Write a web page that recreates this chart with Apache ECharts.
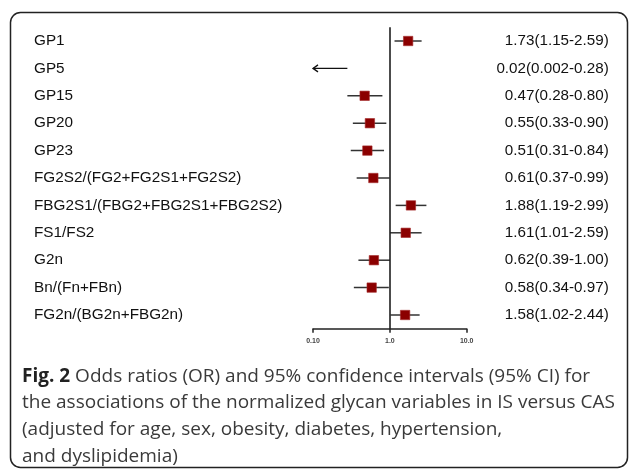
<!DOCTYPE html>
<html>
<head>
<meta charset="utf-8">
<script src="https://cdn.jsdelivr.net/npm/echarts@6/dist/echarts.min.js"></script>
<style>html,body{margin:0;padding:0;background:#fff}#c{width:630px;height:470px}</style>
</head>
<body>
<div id="c"></div>
<script>
const categories = ["GP1","GP5","GP15","GP20","GP23","FG2S2/(FG2+FG2S1+FG2S2)","FBG2S1/(FBG2+FBG2S1+FBG2S2)","FS1/FS2","G2n","Bn/(Fn+FBn)","FG2n/(BG2n+FBG2n)"];
const orValues = [1.73,0.02,0.47,0.55,0.51,0.61,1.88,1.61,0.62,0.58,1.58];
const ciLow = [1.15,0.002,0.28,0.33,0.31,0.37,1.19,1.01,0.39,0.34,1.02];
const ciHigh = [2.59,0.28,0.80,0.90,0.84,0.99,2.99,2.59,1.00,0.97,2.44];
const rightLabels = ["1.73(1.15-2.59)","0.02(0.002-0.28)","0.47(0.28-0.80)","0.55(0.33-0.90)","0.51(0.31-0.84)","0.61(0.37-0.99)","1.88(1.19-2.99)","1.61(1.01-2.59)","0.62(0.39-1.00)","0.58(0.34-0.97)","1.58(1.02-2.44)"];
const xTickLabels = {"0.1":"0.10","1":"1.0","10":"10.0"};
const xMin = 0.1, xMax = 10;

const chart = echarts.init(document.getElementById('c'), null, {renderer:'canvas'});
const data = categories.map((c,i)=>[i, orValues[i], ciLow[i], ciHigh[i]]);
const sans = '"Liberation Sans", Arial, sans-serif';

chart.setOption({
  animation:false,
  grid:{left:313, right:163.3, top:27.3, bottom:141.3},
  xAxis:{type:'log', logBase:10, min:xMin, max:xMax,
    axisLine:{show:true, lineStyle:{color:'#222', width:1.5}},
    axisTick:{show:true, length:4, lineStyle:{color:'#222', width:1.5}},
    splitLine:{show:false}, minorTick:{show:false},
    axisLabel:{fontSize:7, fontWeight:'bold', color:'#444', margin:9, fontFamily:sans,
      formatter:v=>{const k=String(Math.round(v*1000)/1000);return xTickLabels[k]!==undefined?xTickLabels[k]:'';}}
  },
  yAxis:[
    {type:'category', data:categories, inverse:true, position:'left',
      axisLine:{show:false}, axisTick:{show:false}, splitLine:{show:false},
      axisLabel:{align:'left', margin:279, fontSize:15.3, color:'#111', fontFamily:sans}},
    {type:'category', data:rightLabels, inverse:true, position:'right',
      axisLine:{show:false}, axisTick:{show:false}, splitLine:{show:false},
      axisLabel:{align:'right', margin:142, fontSize:15.2, color:'#111', fontFamily:sans}}
  ],
  graphic:[
    {type:'rect', shape:{x:10.5, y:12.5, width:617, height:455, r:10}, style:{fill:'none', stroke:'#222', lineWidth:1.5}, z:0}
  ],
  title:{left:22, top:363, itemGap:0, padding:0,
    text:'{b|Fig. 2} Odds ratios (OR) and 95% confidence intervals (95% CI) for\nthe associations of the normalized glycan variables in IS versus CAS\n(adjusted for age, sex, obesity, diabetes, hypertension,\nand dyslipidemia)',
    textStyle:{fontFamily:'Open Sans', fontSize:19, fontWeight:'normal', color:'#3a3a3a', lineHeight:26.7,
      rich:{b:{fontFamily:'Open Sans', fontSize:19, fontWeight:'bold', color:'#222', lineHeight:26.7}}}
  },
  series:[{
    type:'custom', coordinateSystem:'cartesian2d', data:data,
    encode:{x:[1,2,3], y:0},
    markLine:{silent:true, symbol:['none','none'], label:{show:false},
      lineStyle:{color:'#111', width:1.5, type:'solid'}, data:[{xAxis:1}]},
    renderItem:function(params, api){
      const i = api.value(0), orv = api.value(1), lo = api.value(2), hi = api.value(3);
      const y = api.coord([xMin, i])[1];
      const xMinPx = api.coord([xMin, i])[0];
      const xHi = api.coord([Math.min(hi,xMax), i])[0];
      const children = [];
      if (orv < xMin) {
        const xL = xMinPx;
        children.push({type:'line', shape:{x1:xL, y1:y, x2:xHi, y2:y}, style:{stroke:'#111', lineWidth:1.3}});
        children.push({type:'polyline', shape:{points:[[xL+5,y-3.5],[xL,y],[xL+5,y+3.5]]}, style:{stroke:'#111', lineWidth:1.3, fill:'none'}});
      } else {
        const xLo = api.coord([Math.max(lo,xMin), i])[0];
        const xC = api.coord([orv, i])[0];
        children.push({type:'line', shape:{x1:xLo, y1:y, x2:xHi, y2:y}, style:{stroke:'#333', lineWidth:1.5}});
        children.push({type:'rect', shape:{x:xC-4.7, y:y-4.7, width:9.4, height:9.4}, style:{fill:'#8b0000', stroke:'#a52a2a', lineWidth:0.6}});
      }
      return {type:'group', children:children};
    }
  }]
});
</script>
</body>
</html>
